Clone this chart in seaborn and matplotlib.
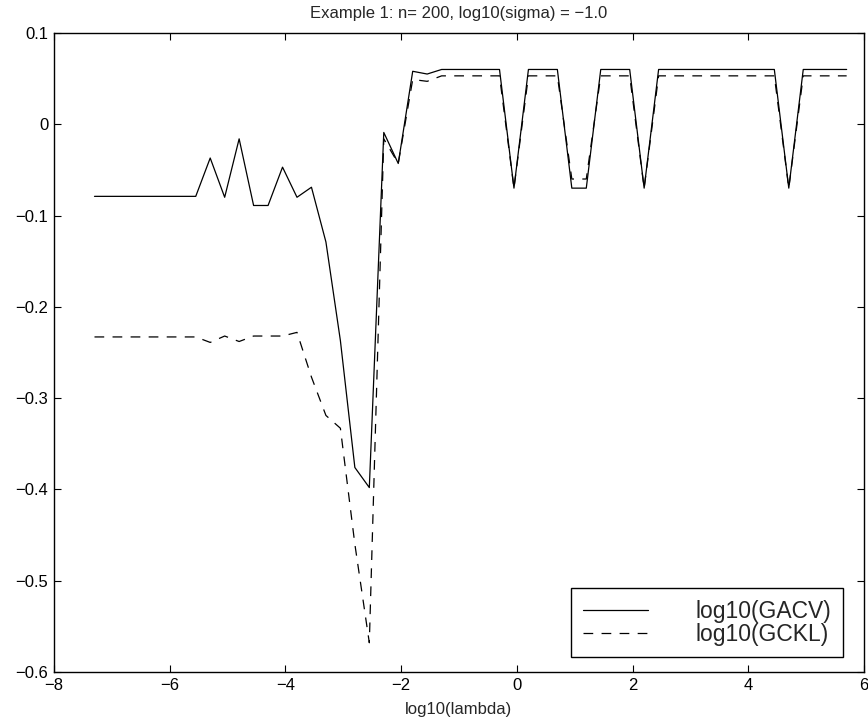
import numpy as np
import pandas as pd
import matplotlib
matplotlib.use("Agg")
import matplotlib.pyplot as plt
import seaborn as sns

# log10(lambda) grid
log_lambda = [-7.3, -7.05, -6.8, -6.55, -6.3, -6.05, -5.8, -5.55, -5.3, -5.05,
              -4.8, -4.55, -4.3, -4.05, -3.8, -3.55, -3.3, -3.05, -2.8, -2.55,
              -2.3, -2.05, -1.8, -1.55, -1.3, -1.05, -0.8, -0.55, -0.3, -0.05,
              0.2, 0.45, 0.7, 0.95, 1.2, 1.45, 1.7, 1.95, 2.2, 2.45,
              2.7, 2.95, 3.2, 3.45, 3.7, 3.95, 4.2, 4.45, 4.7, 4.95,
              5.2, 5.45, 5.7]

gacv = [-0.079, -0.079, -0.079, -0.079, -0.079, -0.079, -0.079, -0.079, -0.037, -0.080,
        -0.016, -0.089, -0.089, -0.047, -0.080, -0.069, -0.129, -0.237, -0.376, -0.398,
        -0.009, -0.043, 0.058, 0.055, 0.060, 0.060, 0.060, 0.060, 0.060, -0.070,
        0.060, 0.060, 0.060, -0.070, -0.070, 0.060, 0.060, 0.060, -0.070, 0.060,
        0.060, 0.060, 0.060, 0.060, 0.060, 0.060, 0.060, 0.060, -0.070, 0.060,
        0.060, 0.060, 0.060]

gckl = [-0.233, -0.233, -0.233, -0.233, -0.233, -0.233, -0.233, -0.233, -0.239, -0.232,
        -0.238, -0.232, -0.232, -0.232, -0.228, -0.277, -0.319, -0.333, -0.460, -0.568,
        -0.016, -0.043, 0.049, 0.047, 0.053, 0.053, 0.053, 0.053, 0.053, -0.070,
        0.053, 0.053, 0.053, -0.060, -0.060, 0.053, 0.053, 0.053, -0.070, 0.053,
        0.053, 0.053, 0.053, 0.053, 0.053, 0.053, 0.053, 0.053, -0.070, 0.053,
        0.053, 0.053, 0.053]

x_ticks = [-8, -6, -4, -2, 0, 2, 4, 6]
y_ticks = [-0.6, -0.5, -0.4, -0.3, -0.2, -0.1, 0, 0.1]
y_tick_labels = ['\u22120.6', '\u22120.5', '\u22120.4', '\u22120.3', '\u22120.2', '\u22120.1', '0', '0.1']

sns.set_style("ticks")
plt.rcParams['font.family'] = ['Liberation Sans', 'DejaVu Sans']
plt.rcParams['lines.scale_dashes'] = False

fig = plt.figure(figsize=(8.68, 7.21), dpi=100)
ax = fig.add_axes([0.0622, 0.068, 0.9332, 0.8863])

df = pd.DataFrame({'x': log_lambda, 'gacv': gacv, 'gckl': gckl})
sns.lineplot(data=df, x='x', y='gacv', ax=ax, color='black', linewidth=0.9,
             label='log10(GACV)', sort=False, estimator=None)
sns.lineplot(data=df, x='x', y='gckl', ax=ax, color='black', linewidth=0.9,
             linestyle=(0, (7, 6)), label='log10(GCKL)', sort=False, estimator=None)

ax.set_xlim(-8, 6)
ax.set_ylim(-0.6, 0.1)
ax.set_xticks(x_ticks)
ax.set_yticks(y_ticks)
ax.set_yticklabels(y_tick_labels)
ax.tick_params(direction='in', length=5, width=0.8, top=True, right=True,
               labelsize=12, pad=4, colors='black')
for s in ax.spines.values():
    s.set_visible(True)
    s.set_linewidth(1.0)
    s.set_color('black')

ax.set_title('Example 1: n= 200, log10(sigma) = \u22121.0', fontsize=12, pad=11)
ax.set_xlabel('log10(lambda)', fontsize=12, labelpad=7)
ax.set_ylabel('')

leg = ax.legend(loc='lower right', bbox_to_anchor=(0.974, 0.023), borderaxespad=0,
                fontsize=16.5, frameon=True, fancybox=False, handlelength=2.84,
                handletextpad=2.1, labelspacing=0.0, borderpad=0.5)
leg.get_frame().set_edgecolor('black')
leg.get_frame().set_linewidth(1.0)
leg.get_frame().set_alpha(1)

fig.savefig('out.png', dpi=100)
